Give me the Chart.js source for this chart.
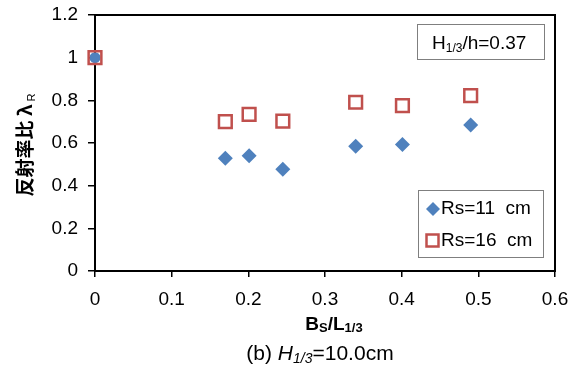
<!DOCTYPE html>
<html>
<head>
<meta charset="utf-8">
<script src="https://cdn.jsdelivr.net/npm/chart.js@4.4.0/dist/chart.umd.min.js"></script>
<style>
  html, body { margin: 0; padding: 0; background: #fff; }
  #contenedor { width: 577px; height: 372px; }
</style>
</head>
<body>
<div id="contenedor"><canvas id="grafico"></canvas></div>
<script>
// Datos
const bsL = [0, 0.170, 0.201, 0.245, 0.340, 0.401, 0.490];
const rs11 = [1.000, 0.528, 0.540, 0.477, 0.585, 0.593, 0.684];
const rs16 = [1.000, 0.700, 0.734, 0.703, 0.791, 0.775, 0.822];
const xTickLabels = ['0', '0.1', '0.2', '0.3', '0.4', '0.5', '0.6'];
const yTickLabels = ['0', '0.2', '0.4', '0.6', '0.8', '1', '1.2'];
const seriesNames = ['Rs=11 cm', 'Rs=16 cm'];

const AZUL = '#4F81BD';
const ROJO = '#C0504D';
const FUENTE = '"Liberation Sans", Arial, sans-serif';
const FUENTE_JP = '"Noto Sans CJK JP", "Noto Sans", sans-serif';

// dibuja texto con subíndices: partes = [{t, f, dy}]
function textoRico(ctx, x, y, partes, align) {
    let ancho = 0;
    partes.forEach(p => { ctx.font = p.f; ancho += ctx.measureText(p.t).width; });
    let cx = align === 'center' ? x - ancho / 2 : x;
    ctx.textBaseline = 'alphabetic';
    ctx.textAlign = 'left';
    partes.forEach(p => {
        ctx.font = p.f;
        ctx.fillText(p.t, cx, y + (p.dy || 0));
        cx += ctx.measureText(p.t).width;
    });
}

const decoracion = {
    id: 'decoracion',
    beforeDatasetsDraw(chart) {
        const { ctx, chartArea: a } = chart;
        ctx.save();
        ctx.strokeStyle = '#000';
        ctx.lineWidth = 2;
        ctx.strokeRect(a.left, a.top, a.right - a.left, a.bottom - a.top);
        ctx.restore();
    },
    afterDraw(chart) {
        const { ctx } = chart;
        ctx.save();
        ctx.fillStyle = '#000';

        // cuadro de condición
        ctx.strokeStyle = '#7f7f7f';
        ctx.lineWidth = 1;
        ctx.strokeRect(417.5, 24.5, 127, 35);
        textoRico(ctx, 432, 49, [
            { t: 'H', f: '19px ' + FUENTE },
            { t: '1/3', f: '12px ' + FUENTE, dy: 3 },
            { t: '/h=0.37', f: '19px ' + FUENTE }
        ], 'left');

        // leyenda
        ctx.strokeRect(418.5, 190.5, 125, 67);
        ctx.fillStyle = AZUL;
        ctx.beginPath();
        ctx.moveTo(433, 202); ctx.lineTo(440, 209); ctx.lineTo(433, 216); ctx.lineTo(426, 209);
        ctx.closePath(); ctx.fill();
        ctx.strokeStyle = ROJO;
        ctx.lineWidth = 2.5;
        ctx.strokeRect(426.5, 234.5, 12, 12);
        ctx.fillStyle = '#000';
        ctx.font = '19px ' + FUENTE;
        ctx.textBaseline = 'middle';
        ctx.fillText('Rs=11  cm', 441, 209);
        ctx.fillText('Rs=16  cm', 441, 241);

        // título eje x
        textoRico(ctx, 334, 330, [
            { t: 'B', f: 'bold 19px ' + FUENTE },
            { t: 'S', f: 'bold 13px ' + FUENTE, dy: 2 },
            { t: '/L', f: 'bold 19px ' + FUENTE },
            { t: '1/3', f: 'bold 13px ' + FUENTE, dy: 2 }
        ], 'center');

        // pie
        textoRico(ctx, 320, 360, [
            { t: '(b) ', f: '21px ' + FUENTE },
            { t: 'H', f: 'italic 21px ' + FUENTE },
            { t: '1/3', f: 'italic 14px ' + FUENTE, dy: 3 },
            { t: '=10.0cm', f: '21px ' + FUENTE }
        ], 'center');

        // título eje y
        ctx.translate(32, 145);
        ctx.rotate(-Math.PI / 2);
        textoRico(ctx, 0, 0, [
            { t: '反射率比 λ', f: 'bold 19px ' + FUENTE_JP },
            { t: ' R', f: '11px ' + FUENTE, dy: 3 }
        ], 'center');
        ctx.restore();
    }
};

new Chart(document.getElementById('grafico'), {
    type: 'scatter',
    data: {
        datasets: [
            {
                label: seriesNames[1],
                data: bsL.map((x, i) => ({ x, y: rs16[i] })),
                pointStyle: 'rect',
                pointRadius: 9,
                pointBorderWidth: 2.5,
                borderColor: ROJO,
                backgroundColor: 'rgba(0,0,0,0)',
                clip: false
            },
            {
                label: seriesNames[0],
                data: bsL.map((x, i) => ({ x, y: rs11[i] })),
                pointStyle: bsL.map((x, i) => i === 0 ? 'circle' : 'rectRot'),
                pointRadius: bsL.map((x, i) => i === 0 ? 5.5 : 7.5),
                pointBorderWidth: 0,
                borderColor: AZUL,
                backgroundColor: AZUL,
                clip: false
            }
        ]
    },
    options: {
        responsive: true,
        maintainAspectRatio: false,
        animation: false,
        events: [],
        layout: { padding: { top: 15, right: 22, left: 0, bottom: 0 } },
        plugins: {
            legend: { display: false },
            title: { display: false },
            tooltip: { enabled: false }
        },
        scales: {
            x: {
                type: 'linear',
                min: 0, max: 0.6,
                afterFit: (s) => { s.height = 101; s.paddingLeft = 0; s.paddingRight = 0; },
                afterBuildTicks: (s) => { s.ticks = xTickLabels.map(v => ({ value: parseFloat(v) })); },
                ticks: {
                    callback: (v, i) => xTickLabels[i],
                    font: { family: FUENTE, size: 19 },
                    color: '#000',
                    padding: 11,
                    maxRotation: 0
                },
                grid: { drawOnChartArea: false, drawTicks: true, tickLength: 6, color: '#000', lineWidth: 1.5 },
                border: { color: '#000', width: 2 }
            },
            y: {
                type: 'linear',
                min: 0, max: 1.2,
                afterFit: (s) => { s.width = 95; s.paddingTop = 0; s.paddingBottom = 0; },
                afterBuildTicks: (s) => { s.ticks = yTickLabels.map(v => ({ value: parseFloat(v) })); },
                ticks: {
                    callback: (v, i) => yTickLabels[i],
                    font: { family: FUENTE, size: 19 },
                    color: '#000',
                    padding: 10
                },
                grid: { drawOnChartArea: false, drawTicks: true, tickLength: 7, color: '#000', lineWidth: 1.5 },
                border: { color: '#000', width: 2 }
            }
        }
    },
    plugins: [decoracion]
});
</script>
</body>
</html>
